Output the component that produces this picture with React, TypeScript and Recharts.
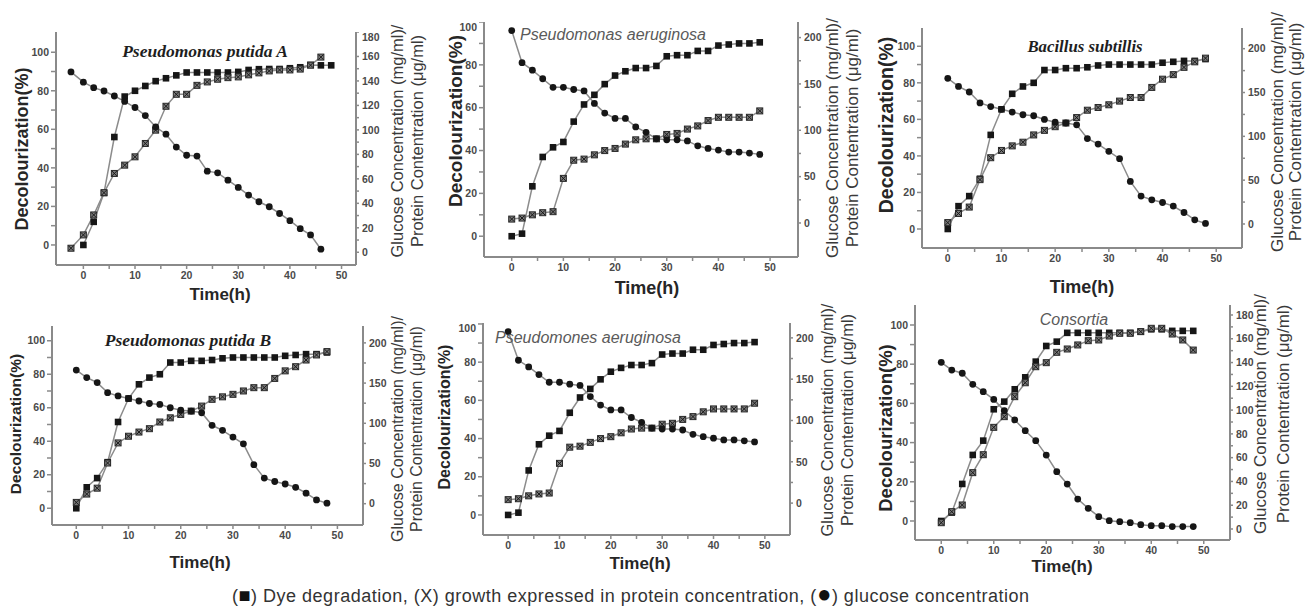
import React from 'react';
import { LineChart, Line, XAxis, YAxis } from 'recharts';

// ---------- time values ----------
const TIME_48 = [0, 2, 4, 6, 8, 10, 12, 14, 16, 18, 20, 22, 24, 26, 28, 30, 32, 34, 36, 38, 40, 42, 44, 46, 48];
const TIME_P1_GP = [-2.4, 0, 2, 4, 6, 8, 10, 12, 14, 16, 18, 20, 22, 24, 26, 28, 30, 32, 34, 36, 38, 40, 42, 44, 46];

// ---------- Pseudomonas putida A ----------
const P1_DYE = [0, 12, 27, 56, 77, 80, 82.5, 85, 86.5, 88, 89.5, 89.5, 89.5, 89.5, 89.5, 89.8, 90.8, 91.2, 91.3, 91.3, 91.7, 92.2, 93.4, 93.2, 93.2];
const P1_PROTEIN = [3.3, 14.2, 30.5, 48.7, 64.4, 71.2, 78, 88.9, 99.8, 119.3, 129.1, 129.1, 136.4, 139.2, 141.4, 142.7, 143.3, 145, 146.6, 148.2, 149, 149, 149.7, 152.9, 159.5];
const P1_GLUCOSE = [147.4, 139, 134.5, 131.8, 127.7, 123.3, 118.3, 111.7, 102.4, 96.5, 86, 79.3, 78.6, 66.3, 64.9, 58.9, 53, 46.7, 41.3, 37.2, 31.7, 25.8, 19.3, 14.2, 2.5];

// ---------- Pseudomonas aeruginosa ----------
const P2_DYE = [0, 1.2, 23.3, 37, 41.5, 44, 53.5, 61.5, 66, 71, 75, 77, 78.5, 78.5, 79.5, 84, 84.5, 84.5, 86.5, 86.5, 89, 89.5, 90, 90, 90.5];
const P2_PROTEIN = [4.2, 5.3, 8.8, 11.1, 12.2, 48.1, 67.7, 68.9, 73.5, 78.1, 80.4, 85.1, 89.7, 90.8, 90.8, 95.5, 96.6, 101.3, 104.7, 110.5, 114, 114, 114, 114, 120.9];
const P2_GLUCOSE = [207.6, 172.9, 164.8, 155.6, 146.3, 146.3, 144, 142.4, 129, 118.6, 112.8, 112.8, 103.6, 97.8, 90.8, 89.7, 89.7, 88.5, 83.2, 80.4, 78.6, 76.5, 76.5, 75.4, 74];

// ---------- Bacillus subtillis / Pseudomonas putida B ----------
const P3_DYE = [0, 12.5, 18, 27.5, 51.5, 65.5, 74, 78, 80, 87, 87, 88, 88, 88.5, 89.5, 90, 90, 90, 90, 90, 91, 91.5, 92, 92, 93];
const P3_PROTEIN = [1.6, 12, 19.3, 50.6, 75.6, 83.9, 89.1, 93.3, 101.6, 106.8, 111, 115.2, 121.4, 129.8, 132.9, 136, 140.2, 144.3, 144.3, 155.8, 165.2, 170.4, 178.7, 185, 189.2];
const P3_GLUCOSE = [166.2, 156.9, 150.6, 138.1, 134, 130.8, 127.7, 124.6, 123.5, 119.3, 116.2, 115.2, 113.1, 97.5, 91.2, 82.9, 74.5, 48.5, 31.8, 27.6, 24.5, 20.4, 13.1, 4.7, 0.6];

// ---------- Consortia ----------
const P6_DYE = [0, 4.3, 18.9, 33.7, 41, 57, 60.9, 67.2, 73.3, 81.3, 89.3, 91.5, 96, 96, 96, 96, 96, 96, 96, 96.6, 97.8, 97.8, 97, 97, 97];
const P6_PROTEIN = [5.3, 14.6, 20.2, 47.4, 62.5, 85.5, 94.5, 111.3, 123, 136.5, 139.9, 148.6, 151.4, 154.8, 158.4, 159, 162.3, 164.6, 164.6, 166, 168.8, 168.8, 164, 159, 150.5];
const P6_GLUCOSE = [140.2, 133.7, 131, 121.7, 115.5, 109, 99.5, 91.7, 82.7, 74.3, 62.2, 48.2, 37.8, 25.2, 17.4, 10.4, 7, 6.2, 5.3, 3.6, 2.8, 2.8, 2, 2, 2];

// ---------- ticks & labels ----------
const X_TICKS = [0, 5, 10, 15, 20, 25, 30, 35, 40, 45, 50];
const LEFT_TICKS = [0, 10, 20, 30, 40, 50, 60, 70, 80, 90, 100];
const RIGHT_TICKS_180 = [0, 10, 20, 30, 40, 50, 60, 70, 80, 90, 100, 110, 120, 130, 140, 150, 160, 170, 180];
const RIGHT_TICKS_200 = [0, 25, 50, 75, 100, 125, 150, 175, 200];
const TITLES = ['Pseudomonas putida A', 'Pseudomonas aeruginosa', 'Bacillus subtillis', 'Pseudomonas putida B', 'Pseudomones aeruginosa', 'Consortia'];
const X_LABEL = 'Time(h)';
const LEFT_LABEL = 'Decolourization(%)';
const RIGHT_LABEL_1 = 'Glucose Concentration (mg/ml)/';
const RIGHT_LABEL_2 = 'Protein Contentration (μg/ml)';
const CAPTION_PARTS = ['(', '■', ') Dye degradation, (X) growth expressed in protein concentration, (', '●', ') glucose concentration'];

const zip = (t: number[], v: number[]) => t.map((x, i) => ({ t: x, v: v[i] }));

const SANS = 'Arial, "Liberation Sans", sans-serif';
const SERIF = '"Times New Roman", "Liberation Serif", serif';
const AXIS = '#8a8a8a';
const LINE = '#8c8c8c';
const MARK = '#161616';

const squareDot = (p: any) => {
  if (p.cx == null || p.cy == null) return <g key={`s${p.index}`} />;
  return <rect key={`s${p.index}`} x={p.cx - 3.3} y={p.cy - 3.3} width={6.6} height={6.6} fill={MARK} />;
};
const crossDot = (p: any) => {
  if (p.cx == null || p.cy == null) return <g key={`x${p.index}`} />;
  const { cx, cy } = p;
  return (
    <g key={`x${p.index}`}>
      <rect x={cx - 3} y={cy - 3} width={6} height={6} fill="#7a7a7a" stroke="#2a2a2a" strokeWidth={1} />
      <path d={`M${cx - 2.5},${cy - 2.5}L${cx + 2.5},${cy + 2.5}M${cx + 2.5},${cy - 2.5}L${cx - 2.5},${cy + 2.5}`} stroke="#1a1a1a" strokeWidth={1} />
    </g>
  );
};
const circleDot = (p: any) => {
  if (p.cx == null || p.cy == null) return <circle key={`c${p.index}`} r={0} />;
  return <circle key={`c${p.index}`} cx={p.cx} cy={p.cy} r={3.4} fill={MARK} />;
};

type Panel = {
  box: [number, number, number, number];
  x: [number, number];
  left: [number, number];
  right: [number, number];
  rightTicks: number[];
  rightStep: number;
  dye: { t: number; v: number }[];
  protein: { t: number; v: number }[];
  glucose: { t: number; v: number }[];
  title: { text: string; x: number; y: number; size: number; serif: boolean };
  timeLbl: [number, number, number];
  leftLbl: [number, number, number];
  rightLbl: [number, number, number, number];
};

const PANELS: Panel[] = [
  {
    box: [56, 32, 356, 265], x: [-5.3, 52.8], left: [-10.4, 110.5], right: [-10.4, 180],
    rightTicks: RIGHT_TICKS_180, rightStep: 20,
    dye: zip(TIME_48, P1_DYE), protein: zip(TIME_P1_GP, P1_PROTEIN), glucose: zip(TIME_P1_GP, P1_GLUCOSE),
    title: { text: TITLES[0], x: 205, y: 52, size: 17.5, serif: true },
    timeLbl: [220, 294, 17], leftLbl: [22, 149, 18], rightLbl: [397, 417, 141, 16.5],
  },
  {
    box: [484, 22, 798, 257], x: [-5.36, 55.4], left: [-9.7, 100], right: [-36.7, 216.8],
    rightTicks: RIGHT_TICKS_200, rightStep: 50,
    dye: zip(TIME_48, P2_DYE), protein: zip(TIME_48, P2_PROTEIN), glucose: zip(TIME_48, P2_GLUCOSE),
    title: { text: TITLES[1], x: 613, y: 35, size: 16, serif: false },
    timeLbl: [647, 288, 18], leftLbl: [455, 121, 19], rightLbl: [832, 852, 138, 17],
  },
  {
    box: [922, 28, 1242, 248], x: [-4.8, 54.8], left: [-10.4, 110], right: [-27.4, 223.6],
    rightTicks: RIGHT_TICKS_200, rightStep: 50,
    dye: zip(TIME_48, P3_DYE), protein: zip(TIME_48, P3_PROTEIN), glucose: zip(TIME_48, P3_GLUCOSE),
    title: { text: TITLES[2], x: 1085, y: 47, size: 16.8, serif: true },
    timeLbl: [1082, 287, 18], leftLbl: [887, 125, 19.5], rightLbl: [1277, 1295, 132, 17],
  },
  {
    box: [52, 326, 363, 525], x: [-4.65, 54.9], left: [-10, 108.8], right: [-26.5, 221],
    rightTicks: RIGHT_TICKS_200, rightStep: 50,
    dye: zip(TIME_48, P3_DYE), protein: zip(TIME_48, P3_PROTEIN), glucose: zip(TIME_48, P3_GLUCOSE),
    title: { text: TITLES[3], x: 188, y: 341, size: 17.5, serif: true },
    timeLbl: [200, 562, 17], leftLbl: [16, 424, 15.5], rightLbl: [398, 417, 429, 16],
  },
  {
    box: [483, 323, 790, 535], x: [-4.9, 54.9], left: [-10.5, 100.5], right: [-38.6, 218],
    rightTicks: RIGHT_TICKS_200, rightStep: 50,
    dye: zip(TIME_48, P2_DYE), protein: zip(TIME_48, P2_PROTEIN), glucose: zip(TIME_48, P2_GLUCOSE),
    title: { text: TITLES[4], x: 588, y: 338, size: 16, serif: false },
    timeLbl: [640, 563, 17], leftLbl: [445, 417, 16], rightLbl: [827, 847, 420, 16.5],
  },
  {
    box: [915, 305, 1230, 540], x: [-5, 55], left: [-9.7, 110.2], right: [-9.25, 188.4],
    rightTicks: RIGHT_TICKS_180, rightStep: 20,
    dye: zip(TIME_48, P6_DYE), protein: zip(TIME_48, P6_PROTEIN), glucose: zip(TIME_48, P6_GLUCOSE),
    title: { text: TITLES[5], x: 1074, y: 320, size: 16, serif: false },
    timeLbl: [1062, 566, 17], leftLbl: [886, 428, 18.5], rightLbl: [1260, 1283, 414, 17],
  },
];

const tickStyle = { fontSize: 10.5, fontWeight: 700, fill: '#4a4a4a', fontFamily: SANS };

const abs = (x: number, y: number, extra: React.CSSProperties): React.CSSProperties => ({
  position: 'absolute', left: x, top: y, whiteSpace: 'nowrap', lineHeight: 1, ...extra,
});

function PanelChart({ p }: { p: Panel }) {
  const [L, T, R, B] = p.box;
  const width = R - L + 120;
  const height = B - T + 30;
  return (
    <div style={{ position: 'absolute', left: L - 60, top: T, width, height }}>
      <LineChart width={width} height={height} margin={{ top: 0, right: 0, bottom: 0, left: 0 }}>
        <XAxis
          xAxisId="b" dataKey="t" type="number" domain={p.x} allowDataOverflow ticks={X_TICKS}
          height={30} tickSize={4} tickMargin={3} tick={tickStyle}
          tickFormatter={(v: number) => (v % 10 === 0 ? String(v) : '')}
          axisLine={{ stroke: AXIS, strokeWidth: 2 }} tickLine={{ stroke: AXIS, strokeWidth: 1.5 }}
        />
        <XAxis
          xAxisId="t" orientation="top" dataKey="t" type="number" domain={p.x} allowDataOverflow ticks={X_TICKS}
          height={0} tickSize={3} tick={false}
          axisLine={{ stroke: AXIS, strokeWidth: 2 }} tickLine={{ stroke: AXIS, strokeWidth: 1.5 }}
        />
        <YAxis
          yAxisId="L" type="number" domain={p.left} allowDataOverflow ticks={LEFT_TICKS}
          width={60} tickSize={5} tickMargin={2} tick={tickStyle}
          tickFormatter={(v: number) => (v % 20 === 0 ? String(v) : '')}
          axisLine={{ stroke: AXIS, strokeWidth: 2 }} tickLine={{ stroke: AXIS, strokeWidth: 1.5 }}
        />
        <YAxis
          yAxisId="R" orientation="right" type="number" domain={p.right} allowDataOverflow ticks={p.rightTicks}
          width={60} tickSize={3} tickMargin={3} tick={tickStyle}
          tickFormatter={(v: number) => (v % p.rightStep === 0 ? String(v) : '')}
          axisLine={{ stroke: AXIS, strokeWidth: 2 }} tickLine={{ stroke: AXIS, strokeWidth: 1.5 }}
        />
        <Line data={p.dye} dataKey="v" xAxisId="b" yAxisId="L" type="linear" stroke={LINE} strokeWidth={1.5} dot={squareDot} activeDot={false} isAnimationActive={false} />
        <Line data={p.protein} dataKey="v" xAxisId="b" yAxisId="R" type="linear" stroke={LINE} strokeWidth={1.5} dot={crossDot} activeDot={false} isAnimationActive={false} />
        <Line data={p.glucose} dataKey="v" xAxisId="b" yAxisId="R" type="linear" stroke={LINE} strokeWidth={1.5} dot={circleDot} activeDot={false} isAnimationActive={false} />
      </LineChart>
    </div>
  );
}

function PanelText({ p }: { p: Panel }) {
  const t = p.title;
  return (
    <>
      <div style={abs(t.x, t.y, {
        transform: 'translate(-50%,-50%)', fontSize: t.size, fontStyle: 'italic',
        fontWeight: t.serif ? 700 : 400, fontFamily: t.serif ? SERIF : SANS, color: t.serif ? '#1e1e1e' : '#5a5a5a',
      })}>{t.text}</div>
      <div style={abs(p.timeLbl[0], p.timeLbl[1], {
        transform: 'translate(-50%,-50%)', fontSize: p.timeLbl[2], fontWeight: 700, fontFamily: SANS, color: '#262626',
      })}>{X_LABEL}</div>
      <div style={abs(p.leftLbl[0], p.leftLbl[1], {
        transform: 'translate(-50%,-50%) rotate(-90deg)', fontSize: p.leftLbl[2], fontWeight: 700, fontFamily: SANS, color: '#262626',
      })}>{LEFT_LABEL}</div>
      <div style={abs(p.rightLbl[0], p.rightLbl[2], {
        transform: 'translate(-50%,-50%) rotate(-90deg)', fontSize: p.rightLbl[3], fontFamily: SANS, color: '#3a3a3a',
      })}>{RIGHT_LABEL_1}</div>
      <div style={abs(p.rightLbl[1], p.rightLbl[2], {
        transform: 'translate(-50%,-50%) rotate(-90deg)', fontSize: p.rightLbl[3], fontFamily: SANS, color: '#3a3a3a',
      })}>{RIGHT_LABEL_2}</div>
    </>
  );
}

export default function App() {
  return (
    <div style={{ position: 'absolute', left: 0, top: 0, width: 1306, height: 608, background: '#fff', overflow: 'hidden' }}>
      {PANELS.map((p, i) => (
        <PanelChart key={`c${i}`} p={p} />
      ))}
      {PANELS.map((p, i) => (
        <PanelText key={`t${i}`} p={p} />
      ))}
      <div style={abs(232, 595, { transform: 'translateY(-50%)', fontSize: 18, letterSpacing: 0.5, fontFamily: SANS, color: '#333' })}>
        {CAPTION_PARTS[0]}
        <span style={{ fontSize: 20, color: '#111' }}>{CAPTION_PARTS[1]}</span>
        {CAPTION_PARTS[2]}
        <span style={{ fontSize: 24, color: '#111', lineHeight: 0.7 }}>{CAPTION_PARTS[3]}</span>
        {CAPTION_PARTS[4]}
      </div>
    </div>
  );
}
